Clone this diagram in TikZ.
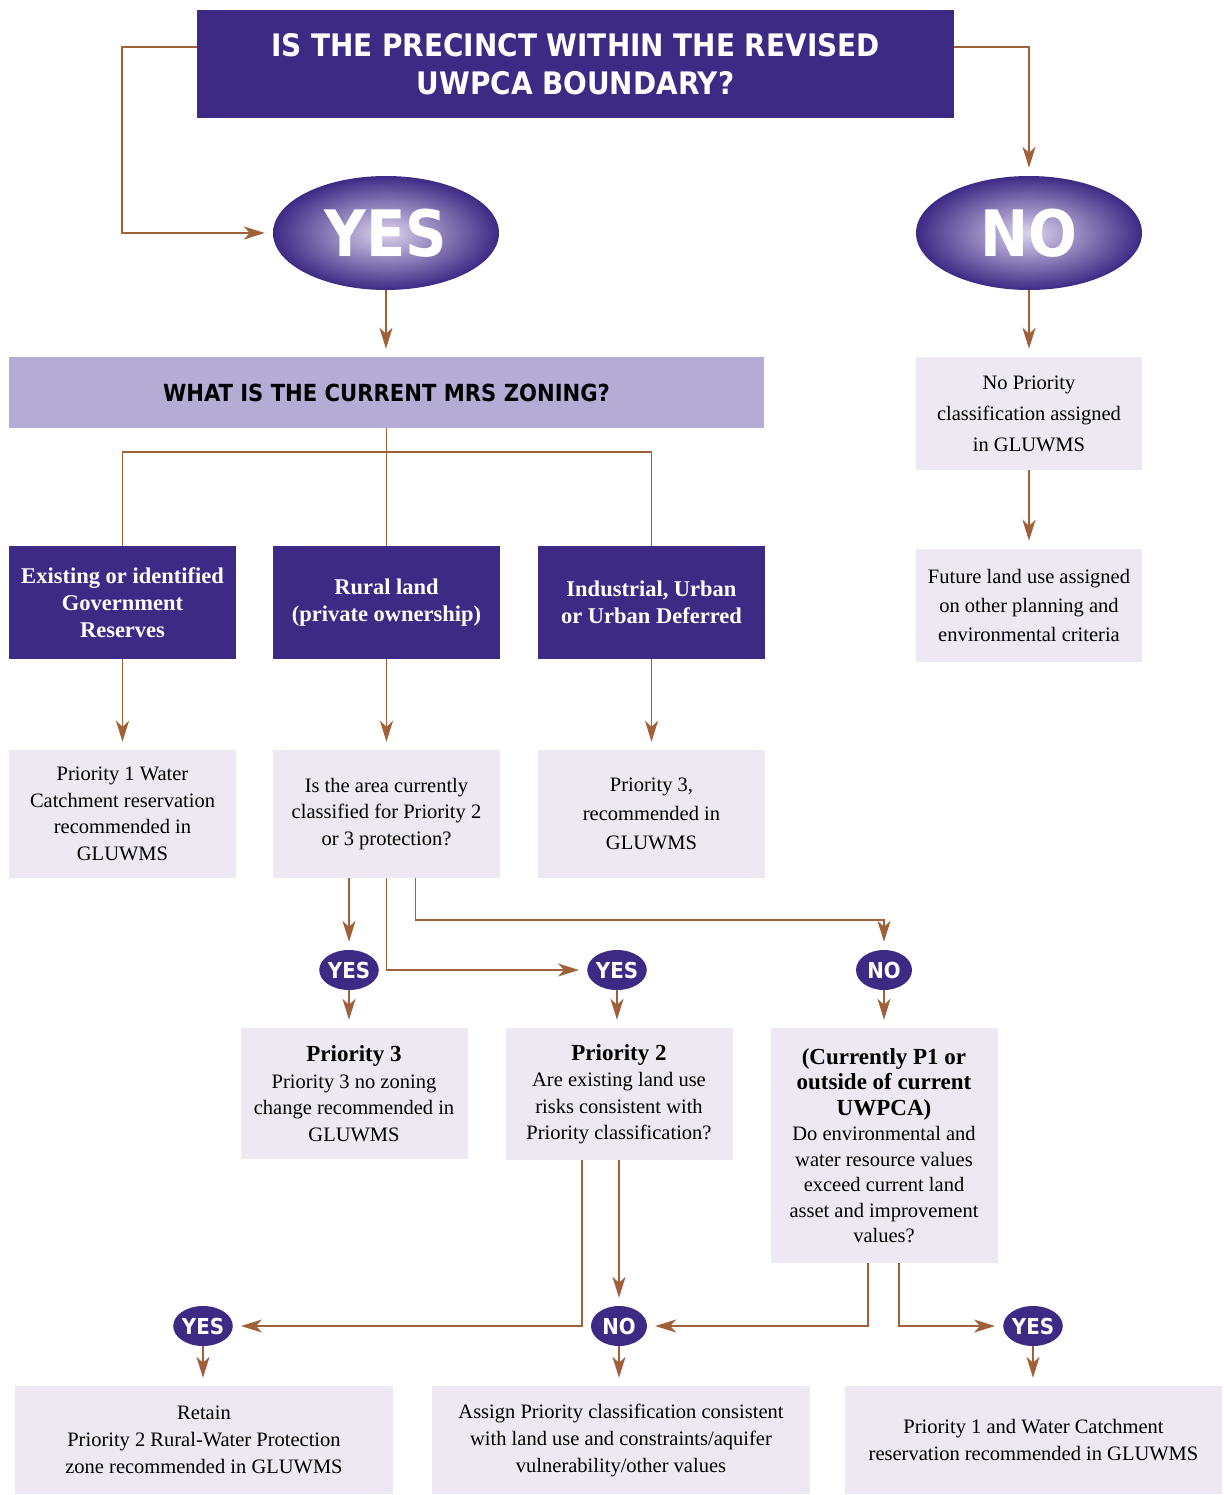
\documentclass[tikz,border=0pt]{standalone}
\usepackage{fontspec}
\setmainfont{Liberation Serif}
\newfontfamily\headfont{DejaVu Sans Condensed}
\usepackage{tikz}
\usetikzlibrary{arrows.meta,shapes.geometric}

\definecolor{deeppurple}{HTML}{3C2A84}
\definecolor{palelilac}{HTML}{EDE8F2}
\definecolor{midlilac}{HTML}{B4ACD4}
\definecolor{softlilac}{HTML}{DCD4EE}
\definecolor{linkbrown}{HTML}{A0603A}

\newcommand{\boldline}[1]{{\fontsize{23}{26}\selectfont\bfseries #1}}

\begin{document}
\begin{tikzpicture}[x=1pt,y=-1pt,
    darkbox/.style={rectangle,fill=deeppurple,text=white,inner sep=0pt,align=center,
        minimum width=227pt,minimum height=113pt,font=\fontsize{22.5}{27}\selectfont\bfseries},
    lightbox/.style={rectangle,fill=palelilac,text=black,inner sep=0pt,align=center,
        minimum width=227pt,font=\fontsize{20.5}{26.5}\selectfont},
    bigoval/.style={ellipse,inner sep=0pt,minimum width=226pt,minimum height=114pt,
        shading=radial,inner color=softlilac,outer color=deeppurple,text=white,
        font=\headfont\fontsize{64}{64}\selectfont\bfseries},
    smalloval/.style={ellipse,fill=deeppurple,text=white,inner sep=0pt,
        minimum width=58pt,minimum height=40pt,font=\headfont\fontsize{22}{22}\selectfont\bfseries},
    link/.style={draw=linkbrown,line width=1.5pt},
    arrow/.style={link,-{Stealth[length=21pt,width=13pt,inset=6pt]},shorten >=8pt}]
    \useasboundingbox (0,0) rectangle (1223,1495);

    % question and first answer
    \node at (575.5,64) [rectangle,fill=deeppurple,text=white,inner sep=0pt,align=center,
        minimum width=757pt,minimum height=108pt,
        font=\headfont\fontsize{31}{38}\selectfont\bfseries] (q)
        {IS THE PRECINCT WITHIN THE REVISED\\UWPCA BOUNDARY?};
    \node at (386,233) [bigoval] (yes) {YES};
    \node at (1029,233) [bigoval] (no) {NO};

    \node at (386.5,392.5) [rectangle,fill=midlilac,inner sep=0pt,minimum width=755pt,minimum height=71pt,
        font=\headfont\fontsize{23.5}{24}\selectfont\bfseries] (mrs) {WHAT IS THE CURRENT MRS ZONING?};
    \node at (1029,413.5) [lightbox,minimum width=226pt,minimum height=113pt,
        font=\fontsize{20.5}{31}\selectfont] (np) {No Priority\\classification assigned\\in GLUWMS};
    \node at (1029,605.5) [lightbox,minimum width=226pt,minimum height=113pt,
        font=\fontsize{20.5}{29}\selectfont] (fut) {Future land use assigned\\on other planning and\\environmental criteria};

    % zoning
    \node at (122.5,602.5) [darkbox] (gov) {Existing or identified\\Government\\Reserves};
    \node at (386.5,602.5) [darkbox] (rural) {Rural land\\(private ownership)};
    \node at (651.5,602.5) [darkbox] (ind) {Industrial, Urban\\or Urban Deferred};

    \node at (122.5,814) [lightbox,minimum height=128pt] (p1w) {Priority 1 Water\\Catchment reservation\\recommended in\\GLUWMS};
    \node at (386.5,814) [lightbox,minimum height=128pt] (area) {Is the area currently\\classified for Priority 2\\or 3 protection?};
    \node at (651.5,814) [lightbox,minimum height=128pt,font=\fontsize{20.5}{29}\selectfont] (p3r) {Priority 3,\\recommended in\\GLUWMS};

    % current priority
    \node at (349,970) [smalloval] (ya) {YES};
    \node at (617,970) [smalloval] (yb) {YES};
    \node at (884,970) [smalloval,minimum width=56pt] (na) {NO};

    \node at (354,1093.5) [lightbox,minimum height=131pt] (p3) {\boldline{Priority 3}\\Priority 3 no zoning\\change recommended in\\GLUWMS};
    \node at (619,1094) [lightbox,minimum height=132pt] (p2) {\boldline{Priority 2}\\Are existing land use\\risks consistent with\\Priority classification?};
    \node at (884,1145.5) [lightbox,minimum height=235pt,font=\fontsize{20.5}{25.5}\selectfont] (cur)
        {\boldline{(Currently P1 or}\\\boldline{outside of current}\\\boldline{UWPCA)}\\Do environmental and\\water resource values\\exceed current land\\asset and improvement\\values?};

    % outcomes
    \node at (203,1326) [smalloval] (yc) {YES};
    \node at (619,1326) [smalloval,minimum width=56pt] (nb) {NO};
    \node at (1033,1326) [smalloval] (yd) {YES};

    \node at (204,1440) [lightbox,minimum width=378pt,minimum height=108pt,font=\fontsize{20.5}{27}\selectfont] (ret)
        {Retain\\Priority 2 Rural-Water Protection\\zone recommended in GLUWMS};
    \node at (621,1440) [lightbox,minimum width=378pt,minimum height=108pt,font=\fontsize{20.5}{27}\selectfont] (asg)
        {Assign Priority classification consistent\\with land use and constraints/aquifer\\vulnerability/other values};
    \node at (1033.5,1440) [lightbox,minimum width=377pt,minimum height=108pt,font=\fontsize{20.5}{27}\selectfont] (p1c)
        {Priority 1 and Water Catchment\\reservation recommended in GLUWMS};

    \coordinate (bus) at (386,452);
    \draw[link] (mrs.south) -- (rural.north) (gov.north) |- (bus) -| (ind.north);

    \draw[arrow] ([yshift=17pt]q.west) -- ++(-75,0) |- (yes.west);
    \draw[arrow] ([yshift=17pt]q.east) -| (no.north);
    \draw[arrow] (yes.south) -- (yes.south |- mrs.north);
    \draw[arrow] (no.south) -- (np.north);
    \draw[arrow] (np.south) -- (fut.north);
    \draw[arrow] (gov.south) -- (p1w.north);
    \draw[arrow] (rural.south) -- (area.north);
    \draw[arrow] (ind.south) -- (p3r.north);

    \draw[arrow] (ya.north |- area.south) -- (ya.north);
    \draw[arrow] (area.south) |- (yb.west);
    \draw[arrow] ([xshift=29pt]area.south) -- ++(0,42) -| (na.north);
    \draw[arrow] (ya.south) -- (ya.south |- p3.north);
    \draw[arrow] (yb.south) -- (yb.south |- p2.north);
    \draw[arrow] (na.south) -- (na.south |- cur.north);

    \draw[arrow] ([xshift=-37pt]p2.south) |- (yc.east);
    \draw[arrow] (nb.north |- p2.south) -- (nb.north);
    \draw[arrow] ([xshift=-16pt]cur.south) |- (nb.east);
    \draw[arrow] ([xshift=15pt]cur.south) |- (yd.west);
    \draw[arrow] (yc.south) -- (yc.south |- ret.north);
    \draw[arrow] (nb.south) -- (nb.south |- asg.north);
    \draw[arrow] (yd.south) -- (yd.south |- p1c.north);
\end{tikzpicture}
\end{document}
